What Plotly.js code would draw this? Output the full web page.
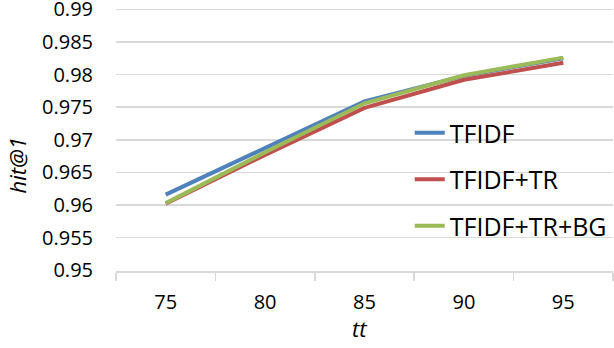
<!DOCTYPE html>
<html>
<head>
<meta charset="utf-8">
<script src="https://cdn.plot.ly/plotly-3.0.1.min.js"></script>
<style>html,body{margin:0;padding:0;background:#fff;}#chart{width:614px;height:348px;}</style>
</head>
<body>
<div id="chart"></div>
<script>
const categories = ['75', '80', '85', '90', '95'];
const seriesNames = ['TFIDF', 'TFIDF+TR', 'TFIDF+TR+BG'];
const tfidf = [0.9616, 0.9687, 0.9759, 0.9798, 0.9825];
const tfidfTr = [0.9602, 0.9677, 0.9749, 0.9792, 0.9818];
const tfidfTrBg = [0.9603, 0.9681, 0.9756, 0.9799, 0.9826];
const yTicks = [0.95, 0.955, 0.96, 0.965, 0.97, 0.975, 0.98, 0.985, 0.99];
const yTickText = ['0.95', '0.955', '0.96', '0.965', '0.97', '0.975', '0.98', '0.985', '0.99'];
const colors = ['#4F81BD', '#C0504D', '#9BBB59'];

const FONT = 'Open Sans, Noto Sans, sans-serif';
const values = [tfidf, tfidfTr, tfidfTrBg];
const traces = values.map((v, i) => ({
  x: categories, y: v, type: 'scatter', mode: 'lines',
  name: seriesNames[i], legendgroup: 'g' + i,
  line: {color: colors[i], width: 4}
}));

const layout = {
  width: 614, height: 348,
  margin: {l: 116, r: 1, t: 8, b: 77},
  paper_bgcolor: '#fff', plot_bgcolor: '#fff',
  font: {family: FONT, color: '#000', size: 20},
  showlegend: true,
  legend: {x: 0.591, y: 0.612, xanchor: 'left', yanchor: 'top',
    font: {family: FONT, size: 25, color: '#000'},
    traceorder: 'grouped', tracegroupgap: 11, bgcolor: 'rgba(0,0,0,0)'},
  xaxis: {type: 'category', range: [-0.5, 4.5], tickson: 'boundaries', ticks: 'outside', ticklen: 8,
    tickcolor: '#d9d9d9', tickwidth: 1.5, showline: true, linecolor: '#d9d9d9', linewidth: 1.5,
    showgrid: false, zeroline: false, ticklabelstandoff: 12,
    tickfont: {family: FONT, size: 20}, fixedrange: true},
  yaxis: {range: [0.9499, 0.9902], tickvals: yTicks, ticktext: yTickText,
    showgrid: true, gridcolor: '#d9d9d9', gridwidth: 1.5, zeroline: false, showline: false,
    ticks: '', ticklabelstandoff: 22, ticklabeloverflow: 'allow', tickfont: {family: FONT, size: 20}},
  annotations: [
    {text: 'hit@1', xref: 'paper', yref: 'paper', x: -0.2, y: 0.40,
      showarrow: false, textangle: -90, xanchor: 'center', yanchor: 'middle',
      font: {family: FONT, size: 22, style: 'italic', color: '#000'}},
    {text: 'tt', xref: 'paper', yref: 'paper', x: 0.49, y: -0.215,
      showarrow: false, xanchor: 'center', yanchor: 'middle',
      font: {family: FONT, size: 22, style: 'italic', color: '#000'}}
  ]
};
Plotly.newPlot('chart', traces, layout, {staticPlot: true, displayModeBar: false});
</script>
</body>
</html>
